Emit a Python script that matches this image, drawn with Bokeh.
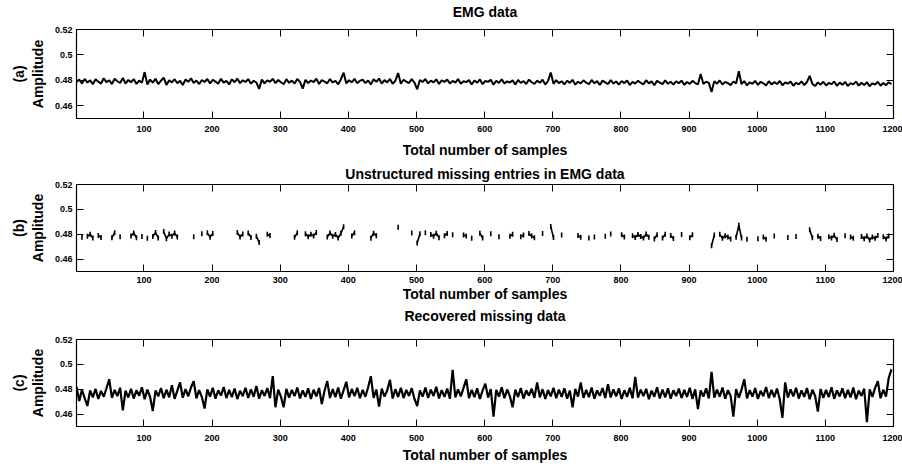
import numpy as np
from bokeh.plotting import figure
from bokeh.layouts import column
from bokeh.models import Range1d, LinearAxis, FixedTicker, CustomJSTickFormatter, CustomLabelingPolicy
from bokeh.embed import file_html
from bokeh.resources import INLINE

# ---------------- data (one value every 4 samples) -------------
SAMPLE_STEP = 4

emg_data = [
    0.4788, 0.4806, 0.4776, 0.4811, 0.4783, 0.4800, 0.4769, 0.4809, 0.4790, 0.4774, 0.4816, 0.4786, 0.4801, 0.4771, 0.4812, 0.4793, 0.4779, 0.4819, 0.4775, 0.4803,
    0.4785, 0.4810, 0.4772, 0.4798, 0.4781, 0.4865, 0.4767, 0.4806, 0.4782, 0.4813, 0.4770, 0.4797, 0.4821, 0.4764, 0.4801, 0.4784, 0.4809, 0.4777, 0.4796, 0.4763,
    0.4807, 0.4789, 0.4816, 0.4779, 0.4799, 0.4771, 0.4803, 0.4787, 0.4811, 0.4776, 0.4805, 0.4790, 0.4773, 0.4812, 0.4782, 0.4796, 0.4768, 0.4808, 0.4785, 0.4814,
    0.4778, 0.4801, 0.4787, 0.4810, 0.4774, 0.4797, 0.4783, 0.4733, 0.4806, 0.4776, 0.4800, 0.4789, 0.4812, 0.4778, 0.4803, 0.4785, 0.4770, 0.4809, 0.4781, 0.4798,
    0.4775, 0.4811, 0.4788, 0.4735, 0.4804, 0.4779, 0.4799, 0.4786, 0.4813, 0.4772, 0.4802, 0.4790, 0.4777, 0.4810, 0.4783, 0.4797, 0.4769, 0.4807, 0.4860, 0.4776,
    0.4801, 0.4785, 0.4812, 0.4777, 0.4796, 0.4806, 0.4779, 0.4799, 0.4768, 0.4808, 0.4788, 0.4814, 0.4775, 0.4802, 0.4784, 0.4811, 0.4773, 0.4797, 0.4857, 0.4774,
    0.4805, 0.4789, 0.4779, 0.4810, 0.4783, 0.4730, 0.4803, 0.4787, 0.4811, 0.4776, 0.4798, 0.4784, 0.4808, 0.4772, 0.4800, 0.4788, 0.4806, 0.4776, 0.4796, 0.4782,
    0.4810, 0.4774, 0.4793, 0.4786, 0.4802, 0.4767, 0.4799, 0.4781, 0.4807, 0.4770, 0.4795, 0.4788, 0.4804, 0.4766, 0.4797, 0.4779, 0.4809, 0.4775, 0.4792, 0.4783,
    0.4800, 0.4768, 0.4803, 0.4780, 0.4794, 0.4771, 0.4806, 0.4785, 0.4772, 0.4798, 0.4781, 0.4805, 0.4767, 0.4795, 0.4862, 0.4773, 0.4801, 0.4778, 0.4793, 0.4769,
    0.4797, 0.4780, 0.4804, 0.4766, 0.4789, 0.4776, 0.4800, 0.4782, 0.4770, 0.4803, 0.4777, 0.4794, 0.4764, 0.4798, 0.4784, 0.4771, 0.4802, 0.4775, 0.4791, 0.4767,
    0.4795, 0.4778, 0.4799, 0.4763, 0.4788, 0.4774, 0.4797, 0.4781, 0.4769, 0.4801, 0.4776, 0.4792, 0.4762, 0.4796, 0.4782, 0.4770, 0.4800, 0.4773, 0.4789, 0.4766,
    0.4793, 0.4777, 0.4798, 0.4764, 0.4787, 0.4772, 0.4796, 0.4779, 0.4768, 0.4850, 0.4771, 0.4790, 0.4780, 0.4708, 0.4794, 0.4774, 0.4799, 0.4767, 0.4788, 0.4778,
    0.4762, 0.4791, 0.4775, 0.4872, 0.4770, 0.4794, 0.4760, 0.4785, 0.4773, 0.4796, 0.4764, 0.4789, 0.4777, 0.4759, 0.4793, 0.4768, 0.4786, 0.4771, 0.4795, 0.4761,
    0.4783, 0.4774, 0.4790, 0.4758, 0.4781, 0.4769, 0.4792, 0.4763, 0.4787, 0.4835, 0.4772, 0.4755, 0.4784, 0.4766, 0.4789, 0.4760, 0.4779, 0.4770, 0.4791, 0.4757,
    0.4782, 0.4765, 0.4788, 0.4756, 0.4778, 0.4768, 0.4790, 0.4759, 0.4781, 0.4763, 0.4786, 0.4754, 0.4777, 0.4767, 0.4789, 0.4758, 0.4780, 0.4762, 0.4785, 0.4771,
]

recovered_data = [
    0.4820, 0.4705, 0.4795, 0.4728, 0.4665, 0.4790, 0.4735, 0.4802, 0.4722, 0.4786, 0.4740, 0.4808, 0.4880, 0.4730, 0.4795, 0.4745, 0.4812, 0.4630, 0.4788, 0.4733,
    0.4804, 0.4725, 0.4792, 0.4748, 0.4815, 0.4720, 0.4797, 0.4738, 0.4625, 0.4790, 0.4743, 0.4810, 0.4727, 0.4796, 0.4735, 0.4832, 0.4722, 0.4789, 0.4855, 0.4731,
    0.4801, 0.4742, 0.4814, 0.4865, 0.4726, 0.4793, 0.4737, 0.4645, 0.4798, 0.4740, 0.4811, 0.4724, 0.4791, 0.4749, 0.4817, 0.4729, 0.4795, 0.4736, 0.4806, 0.4721,
    0.4787, 0.4744, 0.4812, 0.4730, 0.4799, 0.4739, 0.4826, 0.4723, 0.4792, 0.4746, 0.4809, 0.4728, 0.4905, 0.4655, 0.4797, 0.4741, 0.4655, 0.4803, 0.4732, 0.4794,
    0.4745, 0.4813, 0.4726, 0.4790, 0.4738, 0.4807, 0.4721, 0.4796, 0.4743, 0.4810, 0.4680, 0.4788, 0.4865, 0.4729, 0.4801, 0.4736, 0.4814, 0.4724, 0.4793, 0.4860,
    0.4733, 0.4802, 0.4744, 0.4811, 0.4727, 0.4795, 0.4739, 0.4816, 0.4905, 0.4730, 0.4798, 0.4660, 0.4805, 0.4741, 0.4789, 0.4875, 0.4725, 0.4800, 0.4737, 0.4812,
    0.4729, 0.4794, 0.4746, 0.4808, 0.4722, 0.4665, 0.4791, 0.4740, 0.4813, 0.4731, 0.4797, 0.4745, 0.4819, 0.4726, 0.4792, 0.4738, 0.4806, 0.4723, 0.4955, 0.4734,
    0.4799, 0.4742, 0.4811, 0.4880, 0.4728, 0.4795, 0.4736, 0.4807, 0.4721, 0.4790, 0.4845, 0.4733, 0.4801, 0.4580, 0.4794, 0.4740, 0.4815, 0.4727, 0.4798, 0.4744,
    0.4655, 0.4796, 0.4737, 0.4810, 0.4725, 0.4791, 0.4748, 0.4804, 0.4730, 0.4855, 0.4735, 0.4800, 0.4722, 0.4793, 0.4743, 0.4812, 0.4728, 0.4797, 0.4739, 0.4808,
    0.4724, 0.4789, 0.4655, 0.4802, 0.4741, 0.4855, 0.4730, 0.4795, 0.4736, 0.4814, 0.4723, 0.4790, 0.4747, 0.4809, 0.4729, 0.4840, 0.4734, 0.4798, 0.4742, 0.4806,
    0.4721, 0.4792, 0.4738, 0.4811, 0.4727, 0.4900, 0.4732, 0.4796, 0.4744, 0.4803, 0.4720, 0.4788, 0.4740, 0.4815, 0.4726, 0.4797, 0.4735, 0.4808, 0.4723, 0.4791,
    0.4745, 0.4805, 0.4729, 0.4794, 0.4737, 0.4812, 0.4722, 0.4799, 0.4640, 0.4790, 0.4741, 0.4807, 0.4726, 0.4940, 0.4733, 0.4796, 0.4739, 0.4813, 0.4724, 0.4792,
    0.4746, 0.4580, 0.4801, 0.4731, 0.4797, 0.4880, 0.4727, 0.4793, 0.4740, 0.4810, 0.4722, 0.4787, 0.4744, 0.4818, 0.4729, 0.4795, 0.4736, 0.4806, 0.4721, 0.4570,
    0.4855, 0.4732, 0.4798, 0.4743, 0.4812, 0.4725, 0.4791, 0.4738, 0.4809, 0.4720, 0.4796, 0.4745, 0.4620, 0.4802, 0.4730, 0.4794, 0.4737, 0.4816, 0.4723, 0.4790,
    0.4742, 0.4807, 0.4728, 0.4795, 0.4734, 0.4813, 0.4719, 0.4789, 0.4746, 0.4804, 0.4535, 0.4799, 0.4738, 0.4811, 0.4865, 0.4727, 0.4796, 0.4741, 0.4890, 0.4960,
]

# observed (non-missing) stretches of the EMG data: first sample number and number of samples
observed_start = [8, 16, 25, 33, 54, 66, 82, 95, 103, 115, 130, 139, 147, 173, 183, 195, 236, 254, 267, 280,
                  323, 339, 349, 368, 378, 390, 405, 431, 441, 473, 492, 500, 511, 519, 531, 540, 551, 569, 580, 593,
                  609, 621, 638, 653, 667, 684, 699, 712, 737, 753, 760, 775, 785, 800, 818, 829, 840, 848, 861, 873,
                  888, 902, 932, 946, 958, 971, 985, 1001, 1011, 1023, 1044, 1058, 1078, 1089, 1103, 1115, 1127, 1137, 1152, 1162,
                  1174, 1184]
observed_length = [4, 5, 2, 6, 2, 2, 8, 2, 2, 7, 7, 2, 2, 2, 2, 8, 11, 2, 2, 5,
                   2, 5, 5, 5, 6, 5, 5, 7, 2, 2, 2, 6, 2, 7, 2, 5, 2, 6, 2, 6,
                   2, 2, 4, 5, 6, 3, 2, 2, 5, 2, 2, 2, 2, 5, 7, 8, 2, 7, 5, 5,
                   4, 6, 5, 6, 4, 6, 2, 2, 2, 2, 2, 2, 6, 5, 6, 4, 4, 6, 5, 6,
                   5, 10]

x_tick_values = [100, 200, 300, 400, 500, 600, 700, 800, 900, 1000, 1100, 1200]
y_tick_values = [0.46, 0.48, 0.5, 0.52]
panel_titles = ["EMG data", "Unstructured missing entries in EMG data", "Recovered missing data"]
panel_tags = ["(a)", "(b)", "(c)"]
x_label = "Total number of samples"
y_label = "Amplitude"

FONT = "Liberation Sans"

n = min(len(emg_data), len(recovered_data))
samples = np.arange(n) * SAMPLE_STEP + 1
emg = np.array(emg_data[:n])
rec = np.array(recovered_data[:n])
obs = np.full(n, np.nan)
for s, L in zip(observed_start, observed_length):
    i0 = int(round((s - 1) / SAMPLE_STEP))
    i1 = int(round((s + L - 2) / SAMPLE_STEP))
    i1 = min(max(i1, i0), n - 1)
    obs[i0:i1 + 1] = emg[i0:i1 + 1]
obs_mask = ~np.isnan(obs)

hide_all = CustomLabelingPolicy(code="for (const i of indices) { indices.unset(i) }\nreturn indices")


def make_panel(idx, height, top, bottom, title_standoff, tick_standoff, label_standoff):
    p = figure(width=902, height=height, x_range=Range1d(1, 1200), y_range=Range1d(0.45, 0.52),
               output_backend="svg", toolbar_location=None,
               min_border_left=76, min_border_right=9, min_border_top=top, min_border_bottom=bottom)
    p.grid.visible = False
    p.outline_line_color = "black"
    p.outline_line_width = 1.2
    p.background_fill_color = "white"
    p.border_fill_color = "white"

    xa = p.xaxis[0]
    ya = p.yaxis[0]
    xa.ticker = FixedTicker(ticks=x_tick_values)
    ya.ticker = FixedTicker(ticks=y_tick_values)
    ya.formatter = CustomJSTickFormatter(code="return String(Number(tick.toFixed(2)));")

    top_ax = LinearAxis(ticker=FixedTicker(ticks=x_tick_values), major_label_policy=hide_all,
                        major_label_text_font_size="0px", major_label_standoff=0)
    right_ax = LinearAxis(ticker=FixedTicker(ticks=y_tick_values), major_label_policy=hide_all,
                          major_label_text_font_size="0px", major_label_standoff=0)
    for ax in (xa, ya, top_ax, right_ax):
        ax.major_tick_in = 7
        ax.major_tick_out = 0
        ax.minor_tick_line_color = None
        ax.axis_line_color = "black"
        ax.major_tick_line_color = "black"
        ax.axis_label_text_font = FONT
        ax.axis_label_text_font_size = "14px"
        ax.axis_label_text_font_style = "bold"
        ax.axis_label_text_color = "black"
    for ax in (xa, ya):
        ax.major_label_text_font = FONT
        ax.major_label_text_font_size = "9px"
        ax.major_label_text_font_style = "bold"
        ax.major_label_text_color = "black"

    xa.axis_label = x_label
    xa.major_label_standoff = tick_standoff
    xa.axis_label_standoff = label_standoff
    ya.axis_label = panel_tags[idx] + "\n" + y_label
    ya.major_label_standoff = 4
    ya.axis_label_standoff = 6
    # the panel title sits above the frame as the label of the upper (tick-only) axis
    top_ax.axis_label = panel_titles[idx]
    top_ax.axis_label_standoff = title_standoff
    p.add_layout(top_ax, "above")
    p.add_layout(right_ax, "right")
    return p


p1 = make_panel(0, 162, 29, 44, 10, 7, 7)
p1.line(samples, emg, line_color="black", line_width=2.0)

p2 = make_panel(1, 142, 22, 33, 3, 5, 0)
p2.line(samples, obs, line_color="black", line_width=1.6)
p2.scatter(samples[obs_mask], obs[obs_mask], marker="dash", angle=np.pi / 2, size=5,
           line_color="black", line_width=1.6)

p3 = make_panel(2, 162, 35, 40, 16, 8, 3)
p3.line(samples, rec, line_color="black", line_width=2.2)

layout = column(p1, p2, p3)
open("out.html", "w").write(file_html(layout, INLINE))
